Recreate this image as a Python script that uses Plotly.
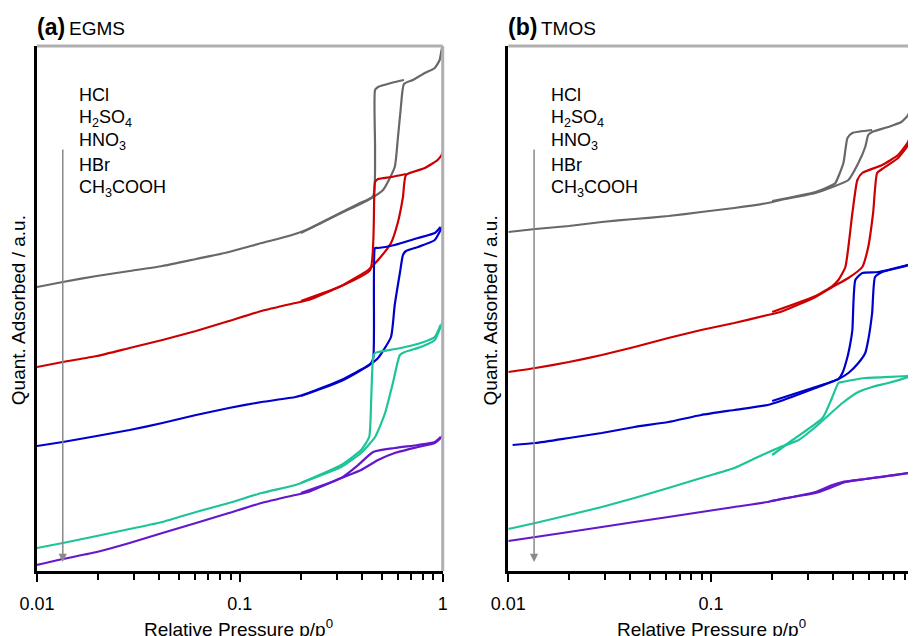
import math
import plotly.graph_objects as go

# ---------------- data (relative pressure p/p0, quantity adsorbed in a.u.) ----------------
acids = ["HCl", "H<sub>2</sub>SO<sub>4</sub>", "HNO<sub>3</sub>", "HBr", "CH<sub>3</sub>COOH"]
colors = ["#686868", "#cc0000", "#0000cc", "#1cc497", "#6418cc"]

# Panel (a) EGMS
a_hcl_ads_p = [0.01, 0.0134, 0.0197, 0.0286, 0.0415, 0.0608, 0.0883, 0.128, 0.174, 0.218, 0.316, 0.429, 0.508, 0.58, 0.60, 0.622, 0.644, 0.713, 0.817, 0.914, 0.966, 0.987, 1.0]
a_hcl_ads_q = [284, 289, 295, 300, 305, 312, 319, 328, 335, 342, 358, 371, 381, 404, 431, 464, 487, 491, 498, 503, 511, 521, 525]
a_hcl_des_p = [0.2, 0.273, 0.383, 0.454, 0.464, 0.464, 0.48, 0.556, 0.644]
a_hcl_des_q = [338, 352, 367, 375, 421, 481, 484, 488, 491]

a_h2so4_ads_p = [0.01, 0.0134, 0.0197, 0.0286, 0.0415, 0.0608, 0.0883, 0.128, 0.188, 0.218, 0.316, 0.429, 0.48, 0.556, 0.60, 0.637, 0.659, 0.817, 0.944, 0.987, 1.0]
a_h2so4_ads_q = [204, 209, 215, 223, 231, 240, 250, 260, 268, 271, 285, 301, 311, 328, 348, 374, 396, 403, 411, 416, 419]
a_h2so4_des_p = [0.2, 0.316, 0.439, 0.464, 0.48, 0.556, 0.659]
a_h2so4_des_q = [270, 285, 301, 389, 392, 394, 397]

a_hno3_ads_p = [0.01, 0.0134, 0.0197, 0.0286, 0.0415, 0.0608, 0.0883, 0.128, 0.188, 0.218, 0.316, 0.434, 0.48, 0.556, 0.58, 0.615, 0.637, 0.659, 0.755, 0.914, 0.976, 1.0]
a_hno3_ads_q = [125, 129, 135, 141, 148, 156, 163, 169, 174, 178, 191, 206, 213, 234, 266, 298, 316, 320, 324, 331, 341, 345]
a_hno3_des_p = [0.2, 0.316, 0.434, 0.454, 0.464, 0.48, 0.58, 0.755, 0.914, 0.976]
a_hno3_des_q = [175, 190, 206, 212, 323, 323, 326, 333, 338, 344]

a_hbr_ads_p = [0.01, 0.0134, 0.0197, 0.0286, 0.0415, 0.0608, 0.0883, 0.128, 0.188, 0.218, 0.316, 0.396, 0.464, 0.52, 0.568, 0.615, 0.651, 0.78, 0.914, 0.976, 1.0]
a_hbr_ads_q = [23, 28, 35, 42, 49, 59, 68, 78, 86, 91, 104, 118, 134, 158, 188, 216, 219, 224, 231, 244, 250]
a_hbr_des_p = [0.2, 0.316, 0.396, 0.434, 0.444, 0.454, 0.464, 0.48, 0.622, 0.78, 0.914, 0.976]
a_hbr_des_q = [88, 106, 121, 134, 171, 214, 218, 219, 223, 228, 234, 246]

a_acoh_ads_p = [0.01, 0.0134, 0.0197, 0.0286, 0.0415, 0.0608, 0.0883, 0.128, 0.188, 0.218, 0.316, 0.396, 0.48, 0.58, 0.755, 0.914, 0.976, 1.0]
a_acoh_ads_q = [6, 12, 19, 28, 38, 48, 58, 68, 76, 79, 93, 101, 111, 118, 124, 128, 133, 136]
a_acoh_des_p = [0.2, 0.316, 0.383, 0.454, 0.58, 0.755, 0.914, 0.976]
a_acoh_des_q = [78, 93, 106, 119, 123, 126, 129, 134]

# Panel (b) TMOS
b_hcl_ads_p = [0.01, 0.0136, 0.0199, 0.0289, 0.0419, 0.0615, 0.0893, 0.130, 0.190, 0.220, 0.327, 0.396, 0.475, 0.532, 0.575, 0.595, 0.622, 0.746, 0.866, 0.935, 0.99]
b_hcl_ads_q = [339, 342, 345, 349, 352, 355, 359, 363, 368, 371, 378, 384, 391, 408, 424, 436, 439, 444, 449, 456, 470]
b_hcl_des_p = [0.2, 0.327, 0.396, 0.41, 0.449, 0.47, 0.497, 0.622]
b_hcl_des_q = [370, 379, 386, 388, 408, 433, 438, 441]

b_h2so4_ads_p = [0.01, 0.0136, 0.0199, 0.0289, 0.0419, 0.0615, 0.0893, 0.130, 0.190, 0.220, 0.327, 0.396, 0.475, 0.556, 0.595, 0.629, 0.658, 0.697, 0.835, 0.935, 0.99]
b_h2so4_ads_q = [199, 203, 209, 216, 224, 233, 241, 248, 256, 259, 274, 284, 293, 304, 324, 358, 398, 402, 413, 426, 440]
b_h2so4_des_p = [0.2, 0.327, 0.396, 0.424, 0.459, 0.497, 0.526, 0.556, 0.697, 0.835, 0.935, 0.99]
b_h2so4_des_q = [259, 275, 285, 291, 304, 358, 391, 398, 406, 416, 429, 443]

b_hno3_ads_p = [0.0105, 0.0136, 0.0199, 0.0289, 0.0419, 0.0615, 0.0893, 0.130, 0.190, 0.220, 0.327, 0.424, 0.475, 0.532, 0.575, 0.595, 0.622, 0.643, 0.697, 0.935, 0.99]
b_hno3_ads_q = [126, 128, 133, 138, 144, 149, 156, 161, 166, 170, 183, 192, 198, 208, 218, 231, 258, 294, 299, 306, 312]
b_hno3_des_p = [0.2, 0.327, 0.424, 0.444, 0.47, 0.486, 0.497, 0.514, 0.556, 0.665, 0.935]
b_hno3_des_q = [170, 184, 192, 198, 214, 228, 241, 291, 298, 299, 306]

b_hbr_ads_p = [0.01, 0.0136, 0.0199, 0.0289, 0.0419, 0.0615, 0.0893, 0.130, 0.170, 0.220, 0.270, 0.327, 0.444, 0.532, 0.622, 0.746, 0.935, 0.99]
b_hbr_ads_q = [42, 48, 56, 64, 73, 83, 93, 103, 114, 124, 131, 144, 168, 179, 184, 188, 194, 196]
b_hbr_des_p = [0.2, 0.252, 0.354, 0.396, 0.424, 0.444, 0.575, 0.935, 0.99]
b_hbr_des_q = [116, 131, 153, 174, 188, 189, 193, 195, 196]

b_acoh_ads_p = [0.01, 0.0136, 0.0199, 0.0289, 0.0419, 0.0615, 0.0893, 0.130, 0.190, 0.220, 0.327, 0.396, 0.459, 0.575, 0.935, 0.99]
b_acoh_ads_q = [30, 34, 39, 44, 49, 54, 59, 64, 69, 72, 78, 84, 89, 92, 98, 100]
b_acoh_des_p = [0.2, 0.327, 0.396, 0.444, 0.575, 0.935]
b_acoh_des_q = [70, 79, 86, 89, 92, 98]

panel_a = [
    (a_hcl_ads_p, a_hcl_ads_q, a_hcl_des_p, a_hcl_des_q),
    (a_h2so4_ads_p, a_h2so4_ads_q, a_h2so4_des_p, a_h2so4_des_q),
    (a_hno3_ads_p, a_hno3_ads_q, a_hno3_des_p, a_hno3_des_q),
    (a_hbr_ads_p, a_hbr_ads_q, a_hbr_des_p, a_hbr_des_q),
    (a_acoh_ads_p, a_acoh_ads_q, a_acoh_des_p, a_acoh_des_q),
]
panel_b = [
    (b_hcl_ads_p, b_hcl_ads_q, b_hcl_des_p, b_hcl_des_q),
    (b_h2so4_ads_p, b_h2so4_ads_q, b_h2so4_des_p, b_h2so4_des_q),
    (b_hno3_ads_p, b_hno3_ads_q, b_hno3_des_p, b_hno3_des_q),
    (b_hbr_ads_p, b_hbr_ads_q, b_hbr_des_p, b_hbr_des_q),
    (b_acoh_ads_p, b_acoh_ads_q, b_acoh_des_p, b_acoh_des_q),
]

major_ticks = [0.01, 0.1, 1]
major_text = ["0.01", "0.1", "1"]
minor_ticks = [k * 0.01 for k in range(2, 10)] + [k * 0.1 for k in range(2, 10)]

# ---------------- figure ----------------
FONT = "Liberation Sans, Arial, sans-serif"
fig = go.Figure()

for (xa, ya), panel in ((("x", "y"), panel_a), (("x2", "y2"), panel_b)):
    for i, (ap, aq, dp, dq) in enumerate(panel):
        for px_, qy in ((ap, aq), (dp, dq)):
            fig.add_trace(go.Scatter(
                x=px_, y=qy, mode="lines", xaxis=xa, yaxis=ya,
                line=dict(color=colors[i], width=2.2, shape="spline", smoothing=0.5),
                showlegend=False, hoverinfo="skip"))

xaxis_common = dict(
    type="log", showgrid=False, zeroline=False, showline=True,
    linecolor="black", linewidth=2.5, ticks="outside", ticklen=8,
    tickwidth=1.8, tickcolor="black", tickvals=major_ticks, ticktext=major_text,
    tickfont=dict(family=FONT, size=18, color="black"),
    ticklabelstandoff=7,
    minor=dict(tickvals=minor_ticks, ticks="outside", ticklen=6,
               tickwidth=1.5, tickcolor="black"),
)
yaxis_common = dict(
    range=[0, 525], showgrid=False, zeroline=False, showline=True,
    linecolor="black", linewidth=2.5, ticks="", showticklabels=False,
)

fig.update_layout(
    width=913, height=636,
    margin=dict(l=37, r=0, t=46, b=65),
    plot_bgcolor="white", paper_bgcolor="white",
    xaxis=dict(domain=[0, 0.4658], range=[-2, 0], anchor="y", **xaxis_common),
    yaxis=dict(domain=[0, 1], anchor="x", **yaxis_common),
    xaxis2=dict(domain=[0.5411, 1], range=[-2, -0.0294], anchor="y2", **xaxis_common),
    yaxis2=dict(domain=[0, 1], anchor="x2", **yaxis_common),
)

# gray frame (top/right)
frame = "#b0b0b0"
fig.add_shape(type="line", xref="x domain", yref="y domain", x0=0, x1=1, y0=1, y1=1,
              line=dict(color=frame, width=3))
fig.add_shape(type="line", xref="x domain", yref="y domain", x0=1, x1=1, y0=0, y1=1,
              line=dict(color=frame, width=3))
fig.add_shape(type="line", xref="x2 domain", yref="y2 domain", x0=0, x1=1, y0=1, y1=1,
              line=dict(color=frame, width=3))

arrow_p = 0.0134
label_p = 0.0158
label_q = [476, 453, 430, 406, 383]
for xa, ya, xd, yd, tag, name, px0 in (
        ("x", "y", "x domain", "y domain", "(a)", "EGMS", -0.0023),
        ("x2", "y2", "x2 domain", "y2 domain", "(b)", "TMOS", 0.5388)):
    # arrow
    fig.add_annotation(x=math.log10(arrow_p), y=9, ax=math.log10(arrow_p), ay=423,
                       xref=xa, yref=ya, axref=xa, ayref=ya, text="",
                       showarrow=True, arrowhead=2, arrowsize=1.1, arrowwidth=1.5,
                       arrowcolor="#8a8a8a")
    # acid labels
    for txt, q in zip(acids, label_q):
        fig.add_annotation(x=math.log10(label_p), y=q, xref=xa, yref=ya, text=txt,
                           showarrow=False, xanchor="left", yanchor="middle",
                           font=dict(family=FONT, size=18, color="black"))
    # panel titles
    fig.add_annotation(x=px0, y=1.036, xref="paper", yref="paper", text="<b>" + tag + "</b>",
                       showarrow=False, xanchor="left", yanchor="middle",
                       font=dict(family=FONT, size=23, color="black"))
    fig.add_annotation(x=px0 + 0.037, y=1.034, xref="paper", yref="paper", text=name,
                       showarrow=False, xanchor="left", yanchor="middle",
                       font=dict(family=FONT, size=19, color="black"))

# axis titles
for xc, yc_x in ((0.2317, -0.0217), (0.774, 0.5205)):
    fig.add_annotation(x=xc, y=-0.1086, xref="paper", yref="paper",
                       text="Relative Pressure p/p<sup>0</sup>", showarrow=False,
                       xanchor="center", yanchor="middle",
                       font=dict(family=FONT, size=19, color="black"))
    fig.add_annotation(x=yc_x, y=0.497, xref="paper", yref="paper",
                       text="Quant. Adsorbed / a.u.", showarrow=False, textangle=-90,
                       xanchor="center", yanchor="middle",
                       font=dict(family=FONT, size=19, color="black"))

fig.write_html("out.html")
